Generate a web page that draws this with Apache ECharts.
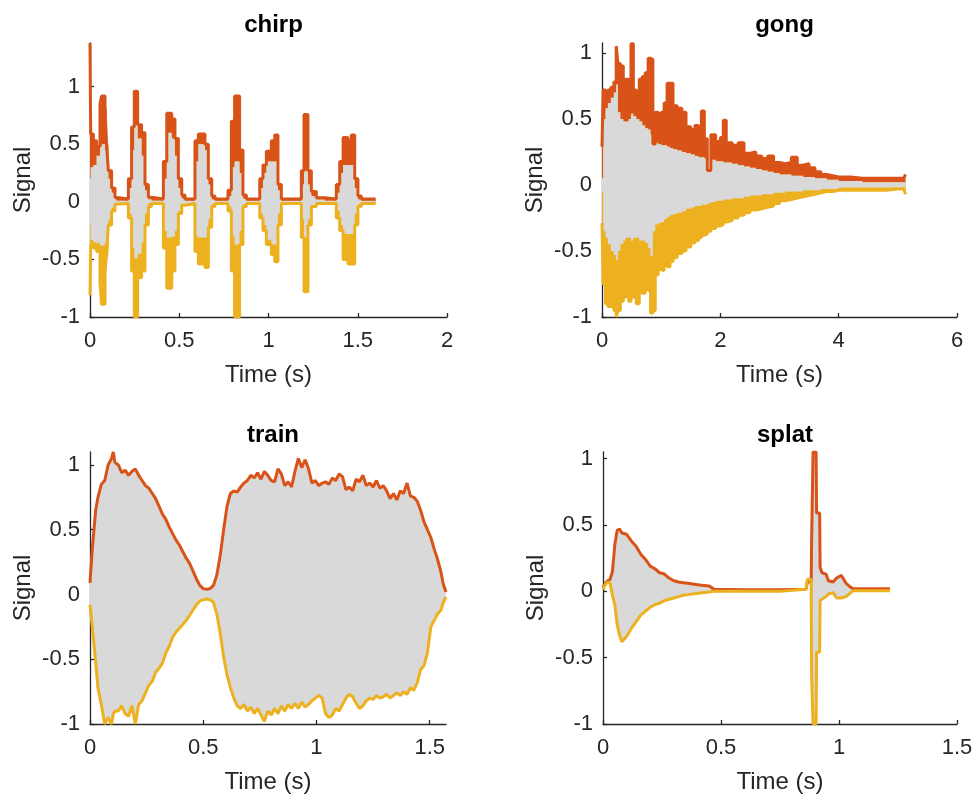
<!DOCTYPE html>
<html>
<head>
<meta charset="utf-8">
<script src="https://cdn.jsdelivr.net/npm/echarts@6.0.0/dist/echarts.min.js"></script>
<style>
html,body{margin:0;padding:0;background:#ffffff;}
#chart{width:977px;height:797px;}
</style>
</head>
<body>
<div id="chart"></div>
<script>
// ---------------- DATA ----------------
const titles = ['chirp', 'gong', 'train', 'splat'];
const yTicks = [-1, -0.5, 0, 0.5, 1];
const chirpXTicks = [0, 0.5, 1, 1.5, 2];
const gongXTicks = [0, 2, 4, 6];
const trainXTicks = [0, 0.5, 1, 1.5];
const splatXTicks = [0, 0.5, 1, 1.5];
const xMaxes = [2, 6, 1.572, 1.5];
const yMaxes = [1.38, 1.075, 1.1, 1.05];

// chirp: time, upper envelope, signal top, signal bottom, lower envelope
const chirpT = [0,0.004,0.019,0.037,0.056,0.065,0.084,0.093,0.103,0.121,0.140,0.149,
  0.215,0.233,0.248,0.267,0.289,0.308,0.327,0.345,
  0.411,0.430,0.458,0.476,0.495,0.514,0.532,
  0.588,0.607,0.644,0.663,0.682,0.700,
  0.773,0.792,0.810,0.838,0.857,0.876,
  0.951,0.969,0.988,1.016,1.035,1.053,1.072,
  1.184,1.199,1.221,1.240,1.268,1.315,
  1.380,1.399,1.418,1.445,1.464,1.483,1.501,1.520,1.600];
const chirpUp = [1.38,0.59,0.53,0.48,0.85,0.92,0.82,0.50,0.27,0.12,0.04,0.025,
  0.20,0.65,0.96,0.67,0.60,0.15,0.04,0.025,
  0.35,0.77,0.72,0.55,0.20,0.06,0.025,
  0.53,0.59,0.50,0.20,0.05,0.025,
  0.10,0.70,0.92,0.45,0.06,0.025,
  0.20,0.32,0.44,0.53,0.58,0.15,0.025,
  0.27,0.76,0.27,0.09,0.035,0.025,
  0.15,0.35,0.56,0.53,0.58,0.20,0.05,0.025,0.025];
const chirpSigUp = [0.20,0.30,0.32,0.40,0.48,0.50,0.45,0.32,0.20,0.08,0.02,0.01,
  0.12,0.45,0.67,0.55,0.40,0.10,0.02,0.01,
  0.20,0.60,0.55,0.40,0.12,0.03,0.01,
  0.35,0.50,0.45,0.15,0.02,0.01,
  0.05,0.30,0.35,0.25,0.03,0.01,
  0.12,0.25,0.35,0.35,0.35,0.10,0.01,
  0.15,0.27,0.15,0.05,0.02,0.01,
  0.08,0.25,0.32,0.32,0.32,0.12,0.02,0.01,0.01];
const chirpSigLo = [-0.20,-0.33,-0.35,-0.36,-0.38,-0.38,-0.35,-0.25,-0.15,-0.05,-0.01,-0.01,
  -0.10,-0.40,-0.49,-0.45,-0.35,-0.10,-0.01,-0.01,
  -0.25,-0.31,-0.30,-0.25,-0.08,-0.02,-0.01,
  -0.30,-0.31,-0.31,-0.15,-0.02,-0.01,
  -0.04,-0.30,-0.37,-0.25,-0.02,-0.01,
  -0.10,-0.20,-0.33,-0.37,-0.37,-0.10,-0.01,
  -0.15,-0.31,-0.15,-0.03,-0.01,-0.01,
  -0.08,-0.20,-0.28,-0.28,-0.28,-0.10,-0.02,-0.01,-0.01];
const chirpLo = [-0.81,-0.38,-0.40,-0.43,-0.70,-0.89,-0.60,-0.46,-0.20,-0.08,-0.02,-0.015,
  -0.14,-0.60,-1.00,-0.66,-0.60,-0.20,-0.04,-0.015,
  -0.40,-0.75,-0.60,-0.37,-0.10,-0.03,-0.015,
  -0.43,-0.54,-0.57,-0.22,-0.04,-0.015,
  -0.08,-0.60,-1.00,-0.37,-0.04,-0.015,
  -0.14,-0.25,-0.37,-0.46,-0.52,-0.20,-0.015,
  -0.31,-0.78,-0.20,-0.04,-0.015,-0.015,
  -0.14,-0.25,-0.50,-0.54,-0.54,-0.20,-0.04,-0.015,-0.015];

// gong
const gongT = [0,0.02,0.06,0.10,0.15,0.20,0.24,0.27,0.31,0.36,0.40,0.45,0.49,0.53,0.58,0.63,0.68,0.73,0.78,
  0.82,0.86,0.90,0.95,1.00,1.05,1.10,1.15,1.20,1.27,1.35,1.42,1.50,1.57,1.63,1.68,1.73,1.78,1.84,1.92,
  2.00,2.05,2.10,2.20,2.30,2.40,2.50,2.60,2.70,2.80,2.90,3.00,3.10,3.20,3.30,3.40,3.50,3.60,3.70,3.80,
  3.90,4.00,4.20,4.40,4.60,4.80,5.00,5.10,5.13];
const gongUp = [0.29,0.72,0.70,0.72,0.74,0.78,1.05,0.92,0.90,0.78,0.80,0.74,1.07,0.72,0.70,0.80,0.82,0.85,0.96,
  0.95,0.31,0.55,0.50,0.55,0.62,0.77,0.77,0.60,0.58,0.55,0.44,0.42,0.45,0.40,0.56,0.35,0.11,0.38,0.33,
  0.36,0.49,0.32,0.30,0.32,0.24,0.25,0.22,0.20,0.22,0.17,0.16,0.17,0.21,0.15,0.16,0.13,0.10,0.08,0.07,
  0.06,0.06,0.05,0.05,0.05,0.05,0.05,0.05,0.08];
const gongSigUp = [0.05,0.50,0.58,0.62,0.66,0.70,0.76,0.55,0.50,0.48,0.48,0.50,0.54,0.52,0.50,0.48,0.45,0.43,0.42,
  0.38,0.30,0.32,0.31,0.30,0.30,0.29,0.28,0.27,0.26,0.25,0.24,0.23,0.22,0.21,0.21,0.20,0.10,0.19,0.18,
  0.18,0.17,0.17,0.16,0.15,0.14,0.13,0.12,0.11,0.10,0.09,0.08,0.08,0.07,0.07,0.06,0.06,0.05,0.05,0.04,
  0.04,0.03,0.03,0.02,0.02,0.02,0.02,0.02,0.02];
const gongSigLo = [-0.05,-0.35,-0.40,-0.45,-0.50,-0.53,-0.57,-0.50,-0.45,-0.42,-0.40,-0.40,-0.42,-0.40,-0.40,-0.42,-0.42,-0.44,-0.48,
  -0.54,-0.35,-0.30,-0.29,-0.28,-0.26,-0.24,-0.23,-0.22,-0.21,-0.20,-0.18,-0.17,-0.16,-0.16,-0.15,-0.15,-0.14,-0.13,-0.12,
  -0.12,-0.11,-0.11,-0.10,-0.10,-0.09,-0.08,-0.08,-0.07,-0.07,-0.06,-0.06,-0.05,-0.05,-0.05,-0.04,-0.04,-0.04,-0.03,-0.03,
  -0.03,-0.02,-0.02,-0.02,-0.02,-0.02,-0.02,-0.02,-0.02];
const gongLo = [-0.29,-0.75,-0.90,-0.92,-0.92,-0.95,-1.00,-0.95,-0.88,-0.85,-0.80,-0.88,-0.82,-0.85,-0.90,-0.78,-0.82,-0.75,-0.80,
  -0.97,-0.95,-0.68,-0.64,-0.65,-0.60,-0.62,-0.58,-0.55,-0.52,-0.50,-0.47,-0.44,-0.42,-0.40,-0.38,-0.37,-0.35,-0.33,-0.31,
  -0.30,-0.28,-0.27,-0.25,-0.23,-0.21,-0.19,-0.18,-0.17,-0.16,-0.14,-0.12,-0.11,-0.10,-0.09,-0.08,-0.07,-0.06,-0.05,-0.05,
  -0.04,-0.04,-0.04,-0.04,-0.04,-0.03,-0.03,-0.04,-0.07];

// train
const trainT = [0,0.010,0.025,0.035,0.050,0.065,0.080,0.095,0.103,0.110,
  0.125,0.140,0.155,0.170,0.185,0.200,0.215,0.230,0.245,0.260,0.275,0.290,0.305,0.320,0.335,0.350,
  0.365,0.380,0.395,0.410,0.425,0.440,0.455,0.470,0.485,0.500,0.515,0.530,0.545,0.560,0.575,0.590,
  0.605,0.620,0.635,0.650,0.665,0.680,0.695,0.710,0.725,0.740,0.755,0.770,0.785,0.800,0.815,0.830,
  0.845,0.860,0.875,0.890,0.905,0.920,0.935,0.950,0.965,0.980,0.995,1.010,1.025,1.040,1.055,1.070,
  1.085,1.100,1.115,1.130,1.145,1.160,1.175,1.190,1.205,1.220,1.235,1.250,1.265,1.280,1.295,1.310,
  1.325,1.340,1.355,1.370,1.385,1.400,1.415,1.430,1.445,1.460,1.475,1.490,1.505,1.520,1.535,1.550,
  1.560,1.572];
const trainUp = [0.09,0.35,0.65,0.75,0.85,0.88,1.00,1.05,1.10,1.02,
  1.00,0.94,0.96,0.92,0.95,0.97,0.92,0.88,0.84,0.82,0.78,0.74,0.68,0.62,0.58,0.52,
  0.47,0.42,0.38,0.33,0.28,0.24,0.18,0.12,0.07,0.045,0.04,0.045,0.07,0.15,0.30,0.50,
  0.68,0.78,0.80,0.79,0.83,0.86,0.88,0.92,0.90,0.94,0.89,0.95,0.92,0.88,0.87,0.97,
  0.93,0.84,0.87,0.83,0.95,1.05,0.98,1.04,0.97,0.86,0.88,0.84,0.86,0.87,0.85,0.90,
  0.88,0.93,0.91,0.81,0.83,0.80,0.89,0.87,0.92,0.84,0.86,0.83,0.88,0.82,0.84,0.80,
  0.74,0.78,0.73,0.80,0.78,0.86,0.76,0.75,0.72,0.65,0.56,0.50,0.44,0.35,0.27,0.17,
  0.08,0.02];
const trainLo = [-0.08,-0.25,-0.52,-0.72,-0.85,-1.00,-0.95,-1.00,-0.92,-0.90,
  -0.90,-0.86,-0.92,-0.94,-0.86,-1.00,-0.85,-0.82,-0.76,-0.70,-0.67,-0.60,-0.57,-0.53,-0.45,-0.40,
  -0.33,-0.29,-0.26,-0.23,-0.20,-0.16,-0.12,-0.08,-0.05,-0.04,-0.035,-0.04,-0.06,-0.15,-0.30,-0.48,
  -0.62,-0.72,-0.80,-0.86,-0.88,-0.85,-0.90,-0.87,-0.92,-0.88,-0.93,-0.98,-0.90,-0.93,-0.88,-0.92,
  -0.86,-0.90,-0.85,-0.88,-0.84,-0.88,-0.83,-0.87,-0.85,-0.82,-0.80,-0.78,-0.80,-0.92,-0.95,-0.93,
  -0.88,-0.90,-0.85,-0.80,-0.77,-0.79,-0.84,-0.88,-0.86,-0.82,-0.80,-0.81,-0.78,-0.80,-0.79,-0.77,
  -0.80,-0.78,-0.76,-0.78,-0.75,-0.77,-0.72,-0.74,-0.68,-0.58,-0.55,-0.45,-0.25,-0.20,-0.15,-0.12,
  -0.06,-0.02];

// splat
const splatT = [0,0.010,0.020,0.030,0.040,0.050,0.060,0.070,0.080,0.100,0.120,0.140,0.160,0.180,0.200,
  0.220,0.240,0.260,0.280,0.300,0.320,0.340,0.360,0.380,0.400,0.420,0.450,0.470,0.600,0.750,
  0.860,0.866,0.882,0.884,0.890,0.903,0.905,0.918,0.920,0.928,0.945,0.955,0.975,0.990,1.010,
  1.030,1.050,1.060,1.216];
const splatUp = [0.03,0.06,0.08,0.09,0.15,0.35,0.46,0.47,0.44,0.43,0.38,0.34,0.28,0.24,0.19,
  0.17,0.14,0.13,0.10,0.08,0.07,0.065,0.06,0.055,0.05,0.045,0.04,0.015,0.012,0.012,
  0.015,0.07,0.07,0.38,1.05,1.05,0.59,0.59,0.18,0.14,0.13,0.08,0.07,0.10,0.12,
  0.06,0.03,0.02,0.02];
const splatLo = [0.015,0.05,0.07,0.06,-0.03,-0.10,-0.25,-0.33,-0.38,-0.34,-0.28,-0.23,-0.18,-0.15,-0.12,
  -0.10,-0.09,-0.07,-0.06,-0.05,-0.04,-0.03,-0.025,-0.02,-0.015,-0.01,-0.005,0,0,0,
  0.015,0.09,0.09,-0.63,-1.00,-1.00,-0.46,-0.46,-0.07,-0.06,-0.04,-0.02,-0.01,-0.05,-0.05,
  -0.04,-0.01,0.005,0.005];

// ---------------- STYLE / LAYOUT ----------------
const FONT = '"Liberation Sans", Arial, Helvetica, sans-serif';
const AX = '#262626';
const ORANGE = '#D95319', YELLOW = '#EDB120', GRAY = '#D9D9D9';
const grids = [
  {left: 90, top: 43, width: 357, height: 274},
  {left: 602, top: 43, width: 355, height: 274},
  {left: 90, top: 452, width: 356, height: 272},
  {left: 603, top: 452, width: 354, height: 272}
];
const xTickSets = [chirpXTicks, gongXTicks, trainXTicks, splatXTicks];

function pts(t, v) { return t.map((x, i) => [x, v[i]]); }

// Filled band between two level arrays, drawn as one polygon via the axis scales
function band(gi, t, lower, upper, color, z, step) {
  return {
    type: 'custom', xAxisIndex: gi, yAxisIndex: gi, silent: true, animation: false, z: z,
    clip: true,
    data: [[t[0], lower[0]]],
    renderItem: function (params, api) {
      const top = [], bot = [];
      for (let i = 0; i < t.length; i++) {
        top.push(api.coord([t[i], upper[i]]));
        bot.push(api.coord([t[i], lower[i]]));
        if (step && i < t.length - 1) {
          top.push(api.coord([t[i + 1], upper[i]]));
          bot.push(api.coord([t[i + 1], lower[i]]));
        }
      }
      return {type: 'polygon', shape: {points: top.concat(bot.reverse())},
        style: {fill: color, stroke: null}};
    }
  };
}
function line(gi, t, v, color, z, step) {
  return {
    type: 'line', xAxisIndex: gi, yAxisIndex: gi, data: pts(t, v), step: step, z: z,
    symbol: 'none', showSymbol: false, silent: true, animation: false,
    lineStyle: {width: 3, color: color}
  };
}

const series = [
  // chirp
  band(0, chirpT, chirpSigLo, chirpUp, ORANGE, 1, 'end'),
  band(0, chirpT, chirpLo, chirpSigUp, YELLOW, 1, 'end'),
  band(0, chirpT, chirpSigLo, chirpSigUp, GRAY, 2, 'end'),
  line(0, chirpT, chirpUp, ORANGE, 3, 'end'),
  line(0, chirpT, chirpLo, YELLOW, 4, 'end'),
  // gong
  band(1, gongT, gongSigLo, gongUp, ORANGE, 1, 'end'),
  band(1, gongT, gongLo, gongSigUp, YELLOW, 1, 'end'),
  band(1, gongT, gongSigLo, gongSigUp, GRAY, 2, 'end'),
  line(1, gongT, gongUp, ORANGE, 3, 'end'),
  line(1, gongT, gongLo, YELLOW, 4, 'end'),
  // train
  band(2, trainT, trainLo, trainUp, GRAY, 2, false),
  line(2, trainT, trainUp, ORANGE, 3, false),
  line(2, trainT, trainLo, YELLOW, 4, false),
  // splat
  band(3, splatT, splatLo, splatUp, GRAY, 2, false),
  line(3, splatT, splatUp, ORANGE, 3, false),
  line(3, splatT, splatLo, YELLOW, 4, false)
];

const axisLineStyle = {color: AX, width: 1.3};
const xAxes = grids.map((g, i) => ({
  type: 'value', gridIndex: i, min: 0, max: xMaxes[i],
  axisLine: {show: true, onZero: false, lineStyle: axisLineStyle},
  axisTick: {show: true, inside: true, length: 4, customValues: xTickSets[i], lineStyle: axisLineStyle},
  axisLabel: {customValues: xTickSets[i], color: AX, fontSize: 22, fontFamily: FONT, margin: 13},
  splitLine: {show: false},
  name: 'Time (s)', nameLocation: 'middle', nameGap: 46,
  nameTextStyle: {color: AX, fontSize: 24, fontFamily: FONT}
}));
const yAxes = grids.map((g, i) => ({
  type: 'value', gridIndex: i, min: -1, max: yMaxes[i],
  axisLine: {show: true, onZero: false, lineStyle: axisLineStyle},
  axisTick: {show: true, inside: true, length: 4, customValues: yTicks, lineStyle: axisLineStyle},
  axisLabel: {customValues: yTicks, color: AX, fontSize: 22, fontFamily: FONT, margin: 10},
  splitLine: {show: false},
  name: 'Signal', nameLocation: 'middle', nameGap: 55,
  nameTextStyle: {color: AX, fontSize: 24, fontFamily: FONT}
}));
const titleOpts = titles.map((txt, i) => ({
  text: txt, left: grids[i].left + grids[i].width / 2, top: i < 2 ? 8 : 418,
  textAlign: 'center',
  textStyle: {fontSize: 24, fontWeight: 'bold', color: '#000000', fontFamily: FONT}
}));

const chart = echarts.init(document.getElementById('chart'), null, {renderer: 'canvas'});
chart.setOption({
  animation: false,
  backgroundColor: '#ffffff',
  title: titleOpts,
  grid: grids,
  xAxis: xAxes,
  yAxis: yAxes,
  series: series
});
</script>
</body>
</html>
